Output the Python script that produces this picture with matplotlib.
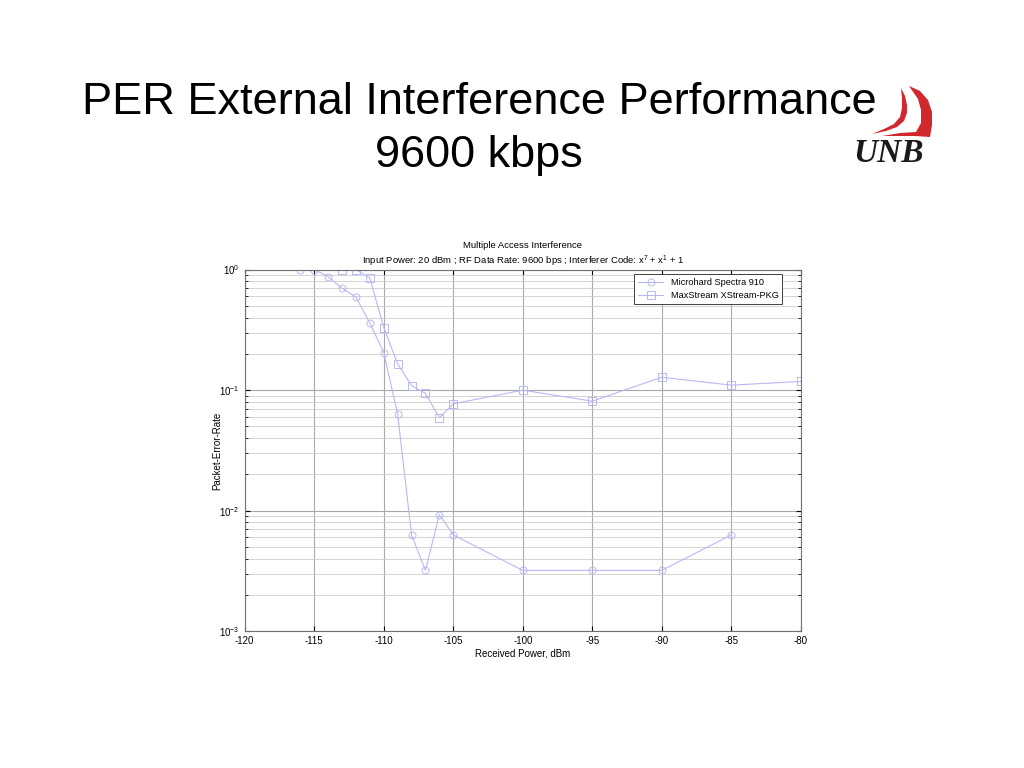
import math
import matplotlib.pyplot as plt
from matplotlib.patches import Polygon
from matplotlib.ticker import FuncFormatter

# data
power_microhard = [-116, -115, -114, -113, -112, -111, -110, -109, -108, -107, -106, -105, -100, -95, -90, -85]
per_microhard = [1.0, 1.0, 0.875, 0.70, 0.59, 0.36, 0.205, 0.063, 0.0063, 0.0032, 0.0093, 0.0063, 0.0032, 0.0032, 0.0032, 0.0063]

power_maxstream = [-113, -112, -111, -110, -109, -108, -107, -106, -105, -100, -95, -90, -85, -80]
per_maxstream = [1.0, 1.0, 0.85, 0.33, 0.165, 0.109, 0.094, 0.059, 0.077, 0.10, 0.081, 0.128, 0.11, 0.118]

x_ticks = [-120, -115, -110, -105, -100, -95, -90, -85, -80]

plt.rcParams['font.family'] = ['Liberation Sans', 'DejaVu Sans']
plt.rcParams['axes.unicode_minus'] = False

fig = plt.figure(figsize=(10.24, 7.68), dpi=100)

# slide title, one text per line
fig.text(0.468, 1 - 102 / 768, "PER External Interference Performance",
         ha='center', va='center', fontsize=32.5)
fig.text(0.468, 1 - 156 / 768, "9600 kbps",
         ha='center', va='center', fontsize=32.5)


# UNB logo (outline given in pixels of the 1024x768 slide)
def px(points):
    return [[x / 1024, 1 - y / 768] for x, y in points]


sail_left = px([(901, 88), (905, 96), (907, 105), (907, 113), (904, 121), (897, 127),
                (886, 131), (872, 134), (884, 129), (894, 124), (900, 117), (902, 108),
                (902, 98)])
sail_right = px([(909, 86), (920, 91), (928, 100), (932, 112), (932, 125), (930, 137),
                 (915, 136), (898, 136), (882, 136), (900, 133), (916, 132),
                 (921, 123), (921, 110), (918, 99)])
for pts in (sail_left, sail_right):
    fig.patches.append(Polygon(pts, closed=True, transform=fig.transFigure,
                               facecolor='#d0282c', edgecolor='none'))
fig.text(0.868, 1 - 154 / 768, "UNB", ha='center', va='center', fontsize=24,
         family='Liberation Serif', weight='bold', style='italic', color='#1a1a1a')

ax = fig.add_axes([0.239, 0.178, 0.543, 0.471])
line_col = '#b8b8f4'
ax.plot(power_microhard, per_microhard, '-o', color=line_col, lw=0.8,
        markersize=5, markerfacecolor='none', markeredgewidth=0.7,
        label='Microhard Spectra 910')
ax.plot(power_maxstream, per_maxstream, '-s', color=line_col, lw=0.8,
        markersize=6, markerfacecolor='none', markeredgewidth=0.7,
        label='MaxStream XStream-PKG')

ax.set_yscale('log')
ax.set_xlim(-120, -80)
ax.set_ylim(1e-3, 1)
ax.set_xticks(x_ticks)
ax.set_xticklabels([str(t) for t in x_ticks])
ax.yaxis.set_major_formatter(FuncFormatter(
    lambda v, pos: '$\\mathregular{10^{%d}}$' % round(math.log10(v))))
ax.grid(True, which='major', color='#a8a8a8', lw=0.8)
ax.grid(True, which='minor', axis='y', color='#cccccc', lw=0.6)
ax.tick_params(axis='both', which='both', direction='in', labelsize=7, top=True, right=True)
ax.tick_params(axis='both', which='minor', length=2)
for s in ax.spines.values():
    s.set_color('#707070')
    s.set_linewidth(0.8)

ax.set_xlabel('Received Power, dBm', fontsize=7, labelpad=2)
ax.set_ylabel('Packet-Error-Rate', fontsize=7, labelpad=-2)
ax.set_title('Multiple Access Interference\n'
             'Input Power: 20 dBm ; RF Data Rate: 9600 bps ; Interferer Code: '
             '$\\mathregular{x^7}$ + $\\mathregular{x^1}$ + 1',
             fontsize=6.8, linespacing=1.3, pad=4)

leg = ax.legend(loc='upper right', fontsize=6.6, fancybox=False, framealpha=1,
                borderaxespad=0.5, handlelength=2.8, bbox_to_anchor=(0.975, 1.0))
leg.get_frame().set_edgecolor('#404040')
leg.get_frame().set_linewidth(0.7)

fig.savefig('out.png', dpi=100)
